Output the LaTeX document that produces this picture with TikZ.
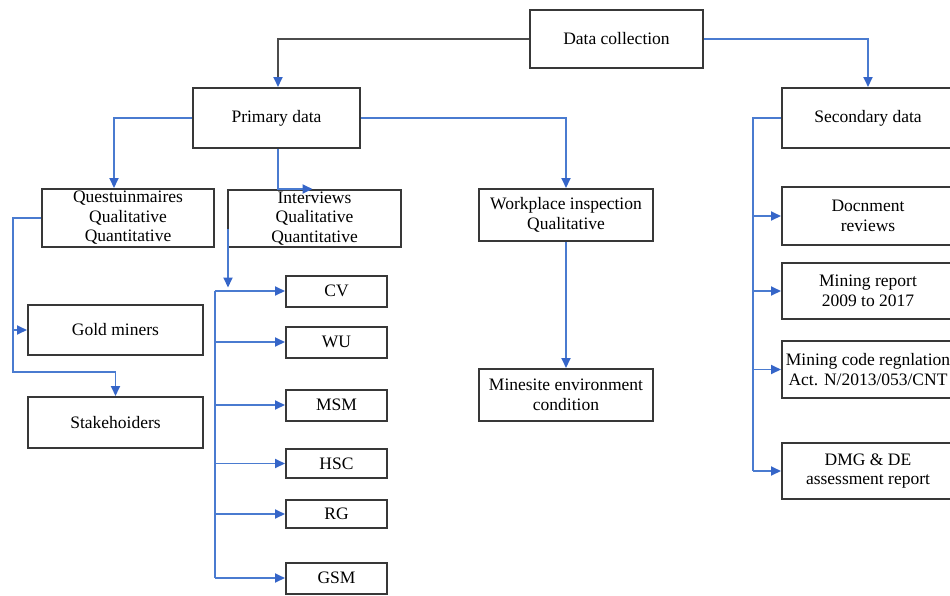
\documentclass[tikz,border=0pt]{standalone}
\usepackage{fontspec}
\setmainfont{Liberation Serif}
\usetikzlibrary{arrows.meta, calc}
\definecolor{lnblue}{HTML}{4A7BD0}
\definecolor{tipblue}{HTML}{3565C8}
\definecolor{boxline}{HTML}{383838}

\begin{document}
\begin{tikzpicture}[x=1pt, y=-1pt,
        box/.style={draw=boxline, line width=2pt, fill=white, align=center, inner sep=1pt,
            font=\fontsize{17.5}{19.5}\selectfont},
        small/.style={box, minimum width=101pt, minimum height=31pt},
        link/.style={lnblue, line width=1.8pt, -{Triangle[length=10pt, width=9pt, color=tipblue]}},
        bus/.style={lnblue, line width=1.8pt}]
    \useasboundingbox (0,0) rectangle (950,595);
    \clip (0,0) rectangle (950,595);
    \node[box, minimum width=173pt, minimum height=58pt] (dc) at (616.5,39) {Data collection};
    \node[box, minimum width=167pt, minimum height=60pt] (prim) at (276.5,118) {Primary data};
    \node[box, minimum width=172pt, minimum height=60pt] (sec) at (868,118) {Secondary data};
    \node[box, minimum width=172pt, minimum height=58pt] (ques) at (128,218) {Questuinmaires\\Qualitative\\Quantitative};
    \node[box, minimum width=173pt, minimum height=57pt] (intv) at (314.5,218.5) {Interviews\\Qualitative\\Quantitative};
    \node[box, minimum width=174pt, minimum height=52pt] (work) at (566,215) {Workplace inspection\\Qualitative};
    \node[box, minimum width=175pt, minimum height=50pt] (gold) at (115.5,330) {Gold miners};
    \node[box, minimum width=175pt, minimum height=51pt] (stak) at (115.5,422.5) {Stakehoiders};
    \node[box, minimum width=174pt, minimum height=52pt] (mine) at (566,395) {Minesite environment\\condition};
    \node[small] (cv) at (336.5,291) {CV};
    \node[small] (wu) at (336.5,342) {WU};
    \node[small] (msm) at (336.5,405) {MSM};
    \node[small, minimum height=29pt] (hsc) at (336.5,463.5) {HSC};
    \node[small, minimum height=28pt] (rg) at (336.5,514) {RG};
    \node[small] (gsm) at (336.5,578) {GSM};
    \node[box, minimum width=172pt, minimum height=58pt] (doc) at (868,216) {Docnment\\reviews};
    \node[box, minimum width=172pt, minimum height=56pt] (rep) at (868,291) {Mining report\\2009 to 2017};
    \node[box, minimum width=172pt, minimum height=57pt] (code) at (868,369.5) {Mining code regnlation\\Act. N/2013/053/CNT};
    \node[box, minimum width=172pt, minimum height=56pt] (dmg) at (868,471) {DMG \& DE\\assessment report};

    \draw[link, black!70] (dc.west) -| ([xshift=1.5pt]prim.north);
    \draw[link] (dc.east) -| (sec.north);
    \draw[link] (prim.west) -| ($(ques.north)+(-14,0)$);
    \draw[link] ([xshift=1.5pt]prim.south) |- ($(intv.north)+(-2,0)$);
    \draw[link] (prim.east) -| (work.north);
    \draw[link] (work.south) -- (mine.north);

    \coordinate (qd) at (13,372);
    \draw[link] (ques.west) -| (qd) -| (stak.north);
    \draw[link] (qd |- gold.west) -- (gold.west);

    \coordinate (ib) at (215,291);
    \draw[link] ($(intv.west)+(1,10)$) -- ($(intv.west)+(1,69)$);
    \draw[bus] (ib) -- (ib |- gsm.west);
    \foreach \n in {cv,wu,msm,hsc,rg,gsm}
        \draw[link] (ib |- \n.west) -- (\n.west);

    \coordinate (sb) at (753,118);
    \draw[bus] (sec.west) -- (sb) -- (sb |- dmg.west);
    \foreach \n in {doc,rep,code,dmg}
        \draw[link] (sb |- \n.west) -- (\n.west);
\end{tikzpicture}
\end{document}
